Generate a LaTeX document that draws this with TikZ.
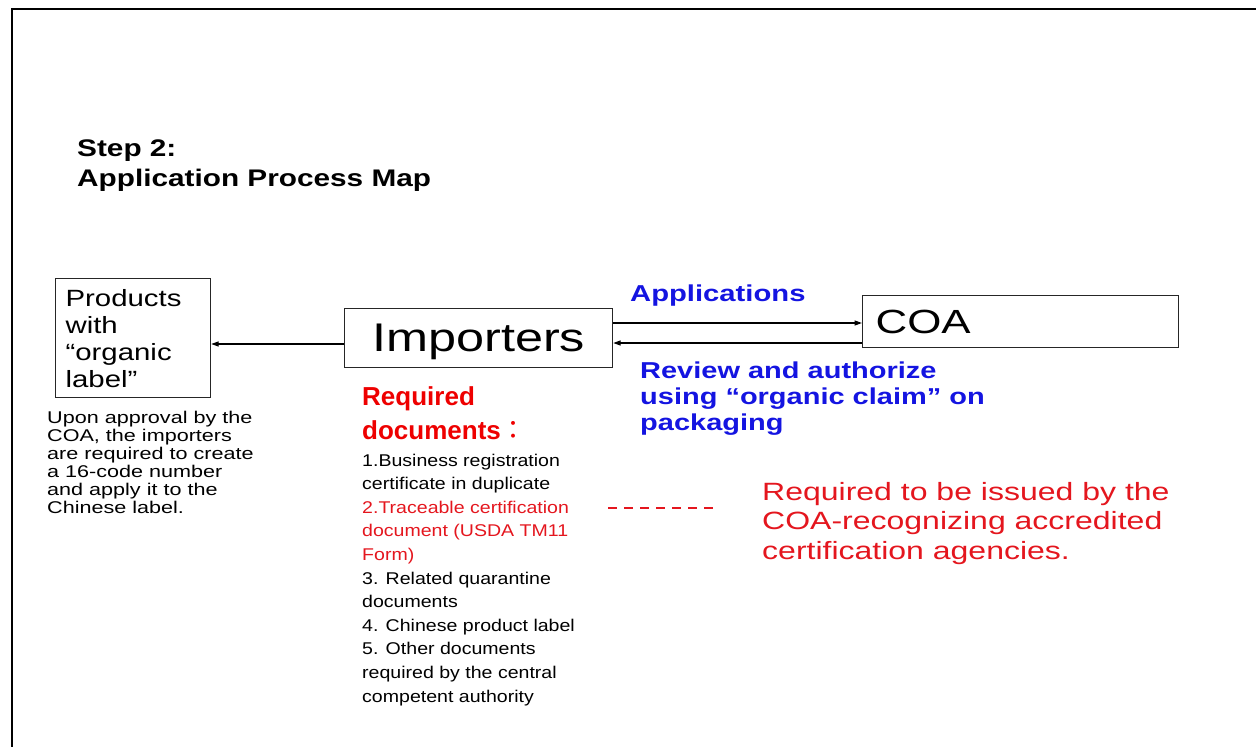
\documentclass[tikz,border=0pt]{standalone}
\usepackage{fontspec}
\setmainfont{Liberation Sans}
\newfontfamily\cjk{Noto Sans CJK TC}
\usetikzlibrary{arrows.meta}
\definecolor{myblue}{RGB}{20,20,225}
\definecolor{myred}{RGB}{238,0,0}
\definecolor{lightred}{RGB}{228,22,30}
\newcommand\sx[2]{\scalebox{#1}[1]{#2}}
\newcommand\fs[2]{\fontsize{#1}{#2}\selectfont}
\begin{document}
\begin{tikzpicture}[x=1pt,y=-1pt,
  txt/.style={anchor=base west, inner sep=0pt},
  box/.style={draw=black!85, line width=1.2pt, inner sep=0pt},
  arr/.style={line width=1.3pt, -{Triangle[length=7.5pt,width=5pt]}}]
\useasboundingbox (0,0) rectangle (1256,747);
% frame
\draw[line width=2pt] (1256,9) -- (12,9) -- (12,747);
% title
\node[txt, font=\bfseries\fs{24}{30}] (title) at (77,156)
  {\sx{1.24}{\vtop{\hbox{Step 2:}\hbox{Application Process Map}}}};
% boxes
\node[box, anchor=north west, minimum width=155pt, minimum height=119pt,
  text width=135pt, align=left, font=\fs{23.5}{27}] (prod) at (55,278)
  {\sx{1.25}{\vtop{\hbox{Products}\hbox{with}\hbox{“organic}\hbox{label”}}}};
\node[box, anchor=north west, minimum width=268pt, minimum height=59pt,
  text depth=0pt, font=\fs{40}{44}] (imp) at (344,308)
  {\sx{1.26}{Importers}};
\node[box, anchor=north west, minimum width=316pt, minimum height=52pt,
  text width=290pt, align=left, font=\fs{33.5}{36}] (coa) at (862,295)
  {\sx{1.31}{COA}};
% arrows
\draw[arr] (imp.west |- 0,344) -- (prod.east |- 0,344);
\draw[arr] (imp.east |- 0,323) -- (coa.west |- 0,323);
\draw[arr] (coa.west |- 0,343) -- (imp.east |- 0,343);
% labels
\node[txt, text=myblue, font=\bfseries\fs{23}{26}] (apps) at (630,301)
  {\sx{1.27}{Applications}};
\node[txt, text=myblue, font=\bfseries\fs{23}{26}] (review) at (640,378)
  {\sx{1.26}{\vtop{\hbox{Review and authorize}\hbox{using “organic claim” on}\hbox{packaging}}}};
\node[txt, text=myred, font=\bfseries\fs{26}{34}] (req) at (362,405)
  {\vtop{\hbox{Required}\hbox{documents{\cjk\mdseries ：}}}};
\node[txt, font=\fs{17}{18}] (upon) at (47,423)
  {\sx{1.27}{\vtop{\hbox{Upon approval by the}\hbox{COA, the importers}\hbox{are required to create}\hbox{a 16-code number}\hbox{and apply it to the}\hbox{Chinese label.}}}};
\node[txt, font=\fs{17}{23.6}] (docs) at (362,466)
  {\sx{1.15}{\vtop{\hbox{1.Business registration}\hbox{certificate in duplicate}\hbox{\color{lightred}2.Traceable certification}\hbox{\color{lightred}document (USDA TM11}\hbox{\color{lightred}Form)}\hbox{3. Related quarantine}\hbox{documents}\hbox{4. Chinese product label}\hbox{5. Other documents}\hbox{required by the central}\hbox{competent authority}}}};
\node[txt, text=lightred, font=\fs{25}{29.5}] (note) at (762,500)
  {\sx{1.28}{\vtop{\hbox{Required to be issued by the}\hbox{COA-recognizing accredited}\hbox{certification agencies.}}}};
% dashed link
\coordinate (d1) at (608,508);
\coordinate (d2) at (718,508);
\draw[lightred, line width=1.3pt, dash pattern=on 9pt off 7pt] (d1) -- (d2);
\end{tikzpicture}
\end{document}
